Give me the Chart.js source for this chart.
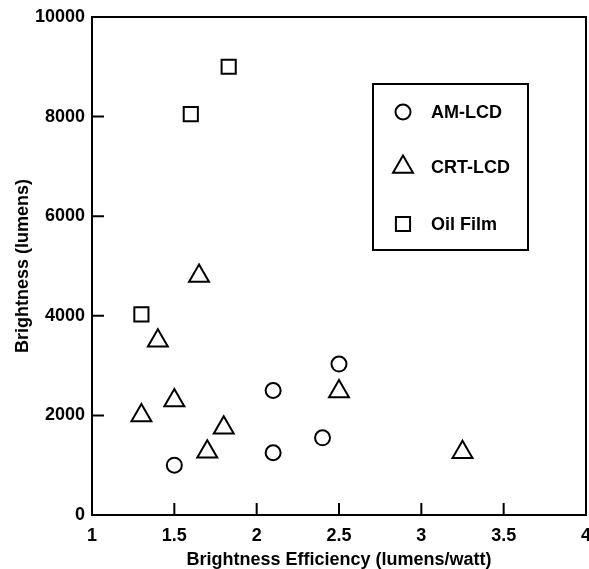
<!DOCTYPE html>
<html lang="en">
<head>
  <meta charset="UTF-8" />
  <title>Brightness vs Efficiency</title>
  <script src="https://cdn.jsdelivr.net/npm/chart.js"></script>
  <style>
    html, body {
      margin: 0;
      padding: 0;
      background: #fff;
      overflow: hidden;
    }
    canvas {
      display: block;
    }
  </style>
</head>
<body>
<canvas id="scatter" width="589" height="569"></canvas>

<script>
  // values
  const amLcdX = [1.5, 2.1, 2.1, 2.4, 2.5];
  const amLcdY = [1000, 2500, 1250, 1550, 3030];

  const crtLcdX = [1.3, 1.4, 1.5, 1.65, 1.7, 1.8, 2.5, 3.25];
  const crtLcdY = [2000, 3500, 2300, 4800, 1270, 1750, 2480, 1260];

  const oilFilmX = [1.3, 1.6, 1.83];
  const oilFilmY = [4030, 8050, 9000];

  const xTicks = [1, 1.5, 2, 2.5, 3, 3.5, 4];
  const yTicks = [0, 2000, 4000, 6000, 8000, 10000];

  const FONT = "'Liberation Sans', Arial, sans-serif";

  function toPoints(xs, ys) {
    return xs.map((x, i) => ({ x: x, y: ys[i] }));
  }

  const series = [
    { label: "AM-LCD", data: toPoints(amLcdX, amLcdY), pointStyle: "circle", radius: 7.5 },
    { label: "CRT-LCD", data: toPoints(crtLcdX, crtLcdY), pointStyle: "triangle", radius: 11.5 },
    { label: "Oil Film", data: toPoints(oilFilmX, oilFilmY), pointStyle: "rect", radius: 10 }
  ];

  // frame, inward tick marks and the boxed legend
  const framePlugin = {
    id: "frame",
    afterDraw(chart) {
      const ctx = chart.ctx;
      const a = chart.chartArea;
      const xs = chart.scales.x;
      const ys = chart.scales.y;
      ctx.save();
      ctx.strokeStyle = "#000";
      ctx.lineWidth = 2;
      ctx.strokeRect(a.left, a.top, a.right - a.left, a.bottom - a.top);

      ctx.beginPath();
      xTicks.slice(1, -1).forEach(v => {
        const px = xs.getPixelForValue(v);
        ctx.moveTo(px, a.bottom);
        ctx.lineTo(px, a.bottom - 12);
      });
      yTicks.slice(1, -1).forEach(v => {
        const py = ys.getPixelForValue(v);
        ctx.moveTo(a.left, py);
        ctx.lineTo(a.left + 12, py);
      });
      ctx.stroke();

      // legend box
      const bx = 373, by = 84, bw = 155, bh = 166;
      ctx.strokeRect(bx, by, bw, bh);
      ctx.font = "bold 18px " + FONT;
      ctx.textBaseline = "middle";
      const rows = [112, 167, 224];
      series.forEach((s, i) => {
        ctx.fillStyle = "rgba(0,0,0,0)";
        Chart.helpers.drawPoint(ctx, {
          pointStyle: s.pointStyle,
          radius: s.radius,
          borderWidth: 2
        }, 403, rows[i]);
        ctx.fillStyle = "#000";
        ctx.fillText(s.label, 431, rows[i] + 1);
      });
      ctx.restore();
    }
  };

  new Chart(document.getElementById("scatter").getContext("2d"), {
    type: "scatter",
    data: {
      datasets: series.map(s => ({
        label: s.label,
        data: s.data,
        pointStyle: s.pointStyle,
        pointRadius: s.radius,
        pointHoverRadius: s.radius,
        pointBorderWidth: 2,
        borderColor: "#000",
        backgroundColor: "rgba(0,0,0,0)"
      }))
    },
    options: {
      responsive: false,
      animation: false,
      layout: {
        autoPadding: false, // big markers would otherwise pad the plot
        padding: { top: 17, right: 3, left: 0, bottom: 0 }
      },
      plugins: {
        legend: { display: false },
        tooltip: { enabled: false }
      },
      scales: {
        x: {
          type: "linear",
          min: 1,
          max: 4,
          afterBuildTicks: scale => { scale.ticks = xTicks.map(v => ({ value: v })); },
          afterFit: scale => { scale.height = 54; },
          afterUpdate: scale => {
            scale.paddingLeft = 0;
            scale.paddingRight = 0;
          },
          grid: { display: false, drawTicks: false },
          border: { display: false },
          ticks: {
            padding: 10,
            color: "#000",
            font: { family: FONT, size: 18, weight: "bold" },
            callback: v => String(v)
          },
          title: {
            display: true,
            text: "Brightness Efficiency (lumens/watt)",
            color: "#000",
            font: { family: FONT, size: 18, weight: "bold" },
            padding: { top: 0, bottom: -2 }
          }
        },
        y: {
          type: "linear",
          min: 0,
          max: 10000,
          afterBuildTicks: scale => { scale.ticks = yTicks.map(v => ({ value: v })); },
          afterFit: scale => { scale.width = 92; },
          afterUpdate: scale => {
            scale.paddingTop = 0;
            scale.paddingBottom = 0;
          },
          grid: { display: false, drawTicks: false },
          border: { display: false },
          ticks: {
            padding: 7,
            color: "#000",
            font: { family: FONT, size: 18, weight: "bold" },
            callback: v => String(v)
          },
          title: {
            display: true,
            text: "Brightness (lumens)",
            color: "#000",
            font: { family: FONT, size: 18, weight: "bold" },
            padding: { top: 12, bottom: 0 }
          }
        }
      }
    },
    plugins: [framePlugin]
  });
</script>
</body>
</html>
